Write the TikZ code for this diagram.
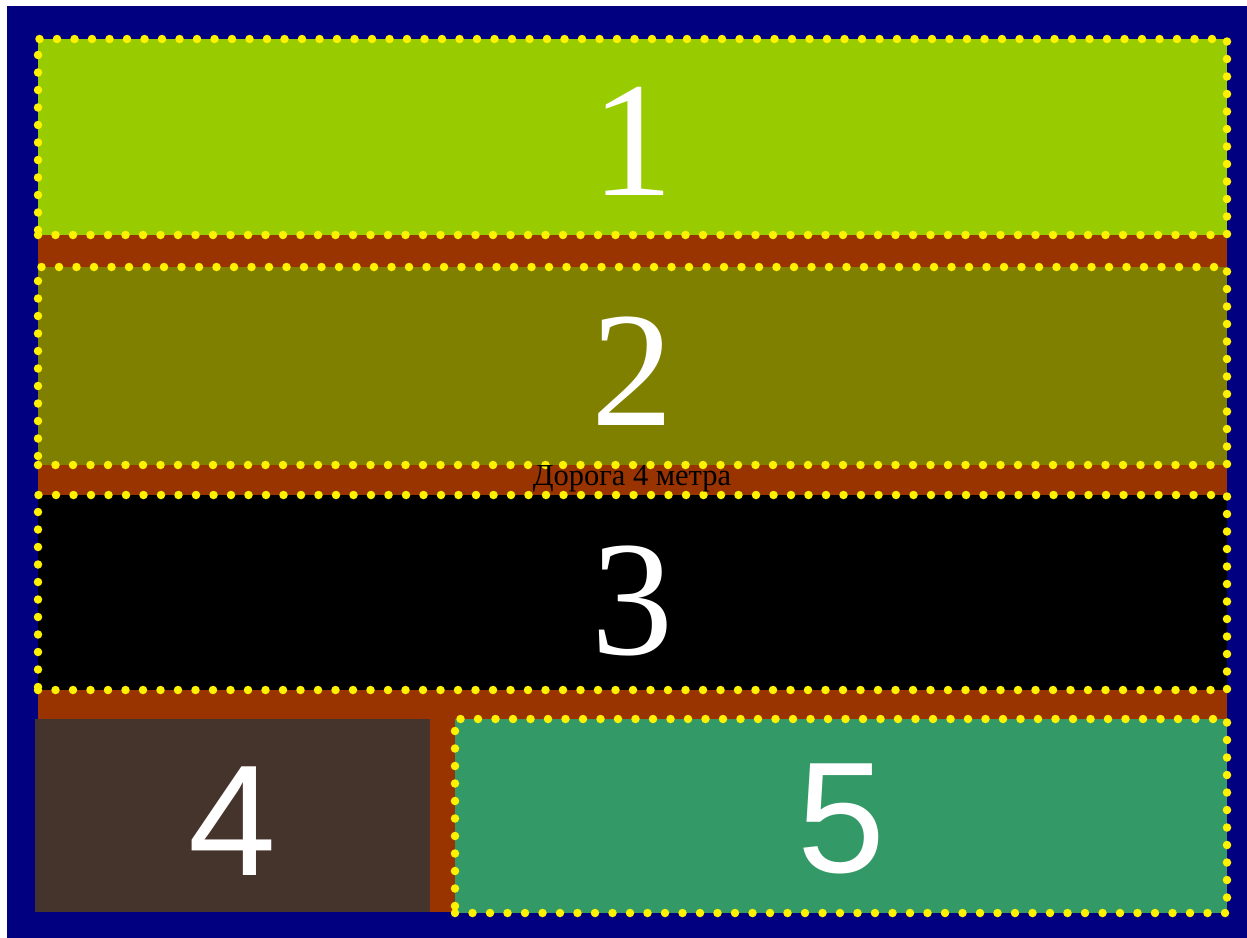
\documentclass[tikz,border=0pt]{standalone}
\usepackage{fontspec}
\setmainfont{Liberation Serif}
\newfontfamily\sansnum{Liberation Sans}
\definecolor{navybg}{HTML}{000080}
\definecolor{roadbrown}{HTML}{993300}
\definecolor{zoneA}{HTML}{99CC00}
\definecolor{zoneB}{HTML}{808000}
\definecolor{zoneD}{HTML}{45342B}
\definecolor{zoneE}{HTML}{339966}
\begin{document}
\begin{tikzpicture}[x=1pt,y=-1pt,
  zone/.style={draw=yellow, line width=8.5pt, dash pattern=on 0pt off 17.5pt, line cap=round,
    inner sep=0pt, outer sep=0pt, anchor=north west},
  plainzone/.style={inner sep=0pt, outer sep=0pt, anchor=north west},
  bignum/.style={text=white, inner sep=0pt, font=\fontsize{164}{164}\selectfont},
  bigsans/.style={text=white, inner sep=0pt, font=\sansnum\fontsize{158}{158}\selectfont},
  roadlabel/.style={text=black, inner sep=0pt, font=\fontsize{30.5}{30.5}\selectfont}]
\useasboundingbox (0,0) rectangle (1247,937);
\fill[white] (0,0) rectangle (1247,937);
\fill[navybg] (7,6) rectangle (1260,950);
\fill[roadbrown] (38,100) rectangle (1227,912);
\node[zone, fill=zoneA, minimum width=1189pt, minimum height=196pt] (z1) at (38,39) {};
\node[zone, fill=zoneB, minimum width=1189pt, minimum height=198pt] (z2) at (38,267) {};
\node[zone, fill=black, minimum width=1189pt, minimum height=195pt] (z3) at (38,495) {};
\node[plainzone, fill=zoneD, minimum width=395pt, minimum height=193pt] (z4) at (35,719) {};
\node[zone, fill=zoneE, minimum width=772pt, minimum height=194pt] (z5) at (455,719) {};
\node[bignum, yshift=-4pt] (n1) at (z1.center) {1};
\node[bignum, yshift=-5pt] (n2) at (z2.center) {2};
\node[bignum, yshift=-8pt] (n3) at (z3.center) {3};
\node[bigsans, yshift=-6pt] (n4) at (z4.center) {4};
\node[bigsans, yshift=-3pt] (n5) at (z5.center) {5};
\node[roadlabel] (road) at (632,479) {Дорога 4 метра};
\end{tikzpicture}
\end{document}
